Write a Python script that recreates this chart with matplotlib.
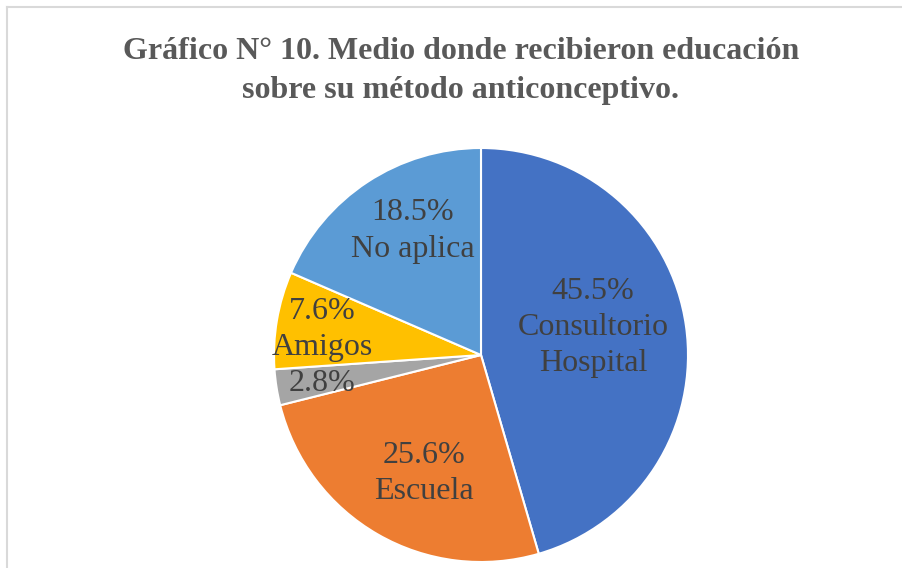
import matplotlib.pyplot as plt
from matplotlib.lines import Line2D

# Data
categories = ['Consultorio\nHospital', 'Escuela', '', 'Amigos', 'No aplica']
values = [45.5, 25.6, 2.8, 7.6, 18.5]
colors = ['#4472C4', '#ED7D31', '#A5A5A5', '#FFC000', '#5B9BD5']
# label positions (in units of the pie radius)
label_pos = [(0.541, 0.135), (-0.275, -0.571), (-0.768, -0.138), (-0.768, 0.125), (-0.329, 0.599)]

plt.rcParams['font.family'] = ['Liberation Serif', 'DejaVu Serif']

fig = plt.figure(figsize=(9.02, 5.68), dpi=100)

# light border of the chart area (only top and left are visible)
bx = 6.5 / 902
by = 1 - 6.5 / 568
fig.add_artist(Line2D([bx, 1], [by, by], color='#D9D9D9', lw=1.5, transform=fig.transFigure))
fig.add_artist(Line2D([bx, bx], [0, by], color='#D9D9D9', lw=1.5, transform=fig.transFigure))

cx, cy, r = 481, 355, 207
ax = fig.add_axes([(cx - r) / 902, (568 - cy - r) / 568, 2 * r / 902, 2 * r / 568])
wedges, _ = ax.pie(values, colors=colors, startangle=90, counterclock=False,
                   radius=1, wedgeprops=dict(edgecolor='white', linewidth=1.5))
ax.set_xlim(-1, 1)
ax.set_ylim(-1, 1)
ax.axis('off')

for cat, val, (x, y) in zip(categories, values, label_pos):
    txt = f'{val}%' if cat == '' else f'{val}%\n{cat}'
    ax.text(x, y, txt, ha='center', va='center', fontsize=23,
            color='#404040', linespacing=1.32)

fig.text(0.511, 1 - 71 / 568, 'Gráfico N° 10. Medio donde recibieron educación\nsobre su método anticonceptivo.',
         ha='center', va='center', fontsize=23, fontweight='bold', color='#595959', linespacing=1.45)

fig.savefig('out.png', dpi=100)
